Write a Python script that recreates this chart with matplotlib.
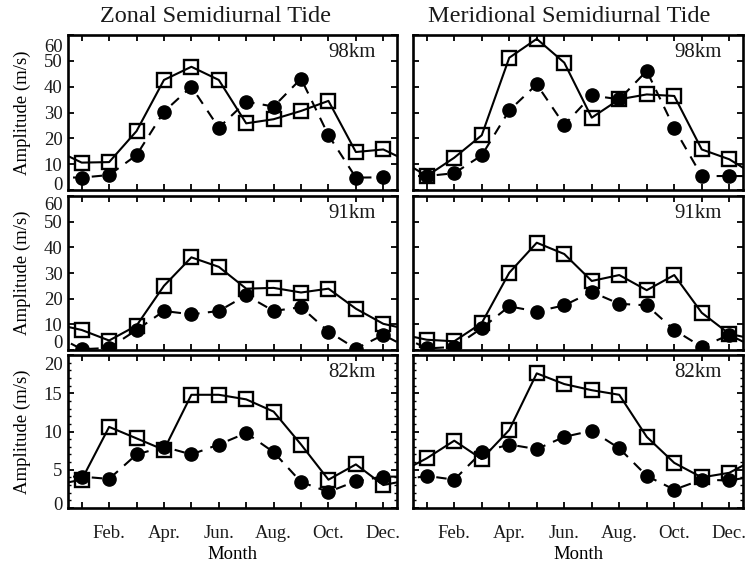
import numpy as np
import matplotlib
matplotlib.use("Agg")
import matplotlib.pyplot as plt
from matplotlib.ticker import MultipleLocator, FixedLocator
from matplotlib.transforms import ScaledTranslation

plt.rcParams['font.family'] = ['Liberation Serif', 'DejaVu Serif']
plt.rcParams['text.color'] = '#1a1a1a'

# ---- data -------------------------------------------------------------
months = list(range(1, 13))
label_months = [2, 4, 6, 8, 10, 12]
month_labels = ['Feb.', 'Apr.', 'Jun.', 'Aug.', 'Oct.', 'Dec.']
heights = ['98km', '91km', '82km']
columns = ['Zonal Semidiurnal Tide', 'Meridional Semidiurnal Tide']

# solid line / open squares
zonal_sq_98 = [10.6, 10.8, 22.8, 42.6, 47.7, 42.6, 25.8, 27.4, 30.6, 34.5, 14.7, 15.7]
zonal_sq_91 = [7.8, 3.7, 9.5, 25.0, 36.1, 32.4, 23.9, 24.2, 22.4, 23.9, 16.1, 10.2]
zonal_sq_82 = [3.7, 10.6, 9.1, 7.6, 14.8, 14.8, 14.2, 12.6, 8.3, 3.7, 5.7, 3.0]
merid_sq_98 = [5.4, 12.5, 21.2, 51.2, 58.5, 49.3, 28.0, 35.1, 37.0, 36.4, 15.7, 11.9]
merid_sq_91 = [4.0, 3.4, 10.5, 30.1, 41.8, 37.4, 26.9, 29.2, 23.3, 29.2, 14.5, 6.3]
merid_sq_82 = [6.5, 8.8, 6.4, 10.2, 17.6, 16.2, 15.4, 14.8, 9.3, 5.9, 4.0, 4.6]

# dashed line / filled circles
zonal_ci_98 = [4.8, 5.8, 13.5, 30.3, 40.0, 24.1, 34.2, 32.3, 43.1, 21.2, 4.8, 4.9]
zonal_ci_91 = [0.3, 0.8, 7.8, 15.2, 13.9, 15.2, 21.3, 15.2, 16.7, 7.2, 0.5, 5.9]
zonal_ci_82 = [4.1, 3.8, 7.0, 8.0, 7.0, 8.3, 9.8, 7.3, 3.4, 2.1, 3.5, 4.1]
merid_ci_98 = [5.4, 6.5, 13.4, 30.8, 40.9, 25.2, 36.6, 35.1, 46.1, 23.9, 5.4, 5.4]
merid_ci_91 = [0.6, 1.2, 8.5, 17.0, 15.0, 17.4, 22.6, 18.0, 17.4, 7.8, 1.2, 5.9]
merid_ci_82 = [4.2, 3.7, 7.3, 8.3, 7.7, 9.3, 10.1, 7.8, 4.2, 2.4, 3.7, 3.6]

squares = [[zonal_sq_98, merid_sq_98], [zonal_sq_91, merid_sq_91], [zonal_sq_82, merid_sq_82]]
circles = [[zonal_ci_98, merid_ci_98], [zonal_ci_91, merid_ci_91], [zonal_ci_82, merid_ci_82]]
yticks = [[0, 10, 20, 30, 40, 50, 60], [0, 10, 20, 30, 40, 50, 60], [0, 5, 10, 15, 20]]
# inward nudge (px) of the lowest / highest y tick label in each row
edge_shift = [(6, 10), (8, 7), (5, 8)]

# ---- layout (pixels of a 751x569 canvas) ------------------------------
W, H = 751, 569
fig = plt.figure(figsize=(W / 100, H / 100), dpi=100)
col_x = [(68, 397), (413, 743)]
row_y = [(35, 190), (196, 350), (355, 508)]


def wrap(vals):
    # repeat the year cyclically so lines run to the frame edges
    x = [0] + months + [13]
    y = [vals[-1]] + list(vals) + [vals[0]]
    return x, y


for r in range(3):
    for c in range(2):
        x0, x1 = col_x[c]
        ytop, ybot = row_y[r]
        ax = fig.add_axes([x0 / W, 1 - ybot / H, (x1 - x0) / W, (ybot - ytop) / H])

        xs, ys = wrap(squares[r][c])
        ax.plot(xs, ys, color='black', lw=1.5, ls='-', marker='s', ms=10.5,
                mfc='none', mec='black', mew=1.7, zorder=2)
        xc, yc = wrap(circles[r][c])
        ax.plot(xc, yc, color='black', lw=1.5, ls=(0, (5, 4)), marker='o', ms=9.5,
                mfc='black', mec='black', zorder=3)

        ax.set_xlim(0.5, 12.5)
        ax.set_ylim(yticks[r][0], yticks[r][-1])

        ax.xaxis.set_major_locator(FixedLocator(months))
        ax.set_xticklabels([month_labels[label_months.index(m)] if m in label_months else ''
                            for m in months])
        ax.yaxis.set_major_locator(FixedLocator(yticks[r]))
        if r == 2:
            ax.yaxis.set_minor_locator(MultipleLocator(1))
        ax.tick_params(which='both', direction='in', top=True, right=True,
                       colors='black', labelcolor='#1a1a1a', labelsize=13.5)
        ax.tick_params(which='major', length=4, width=1.3)
        ax.tick_params(which='minor', length=2, width=1.0)
        ax.tick_params(axis='x', pad=12)
        ax.tick_params(axis='y', pad=4)
        for s in ax.spines.values():
            s.set_linewidth(1.9)

        if r < 2:
            ax.tick_params(axis='x', labelbottom=False)
        else:
            ax.set_xlabel('Month', fontsize=13.5, labelpad=3)
        if c == 1:
            ax.tick_params(axis='y', labelleft=False)
        else:
            ax.set_ylabel('Amplitude (m/s)', fontsize=13.5, labelpad=9)
            fig.canvas.draw()
            ticks = ax.yaxis.get_major_ticks()
            lo, hi = edge_shift[r]
            lab0, lab1 = ticks[0].label1, ticks[-1].label1
            lab0.set_transform(lab0.get_transform() + ScaledTranslation(0, lo / 100, fig.dpi_scale_trans))
            lab1.set_transform(lab1.get_transform() + ScaledTranslation(0, -hi / 100, fig.dpi_scale_trans))

        ax.text(0.935, 0.95, heights[r], transform=ax.transAxes, ha='right', va='top',
                fontsize=15)

        if r == 0:
            cx = [215, 569][c]
            fig.text(cx / W, 1 - 17 / H, columns[c], ha='center', va='center', fontsize=17.5)

fig.savefig('out.png', dpi=100)
